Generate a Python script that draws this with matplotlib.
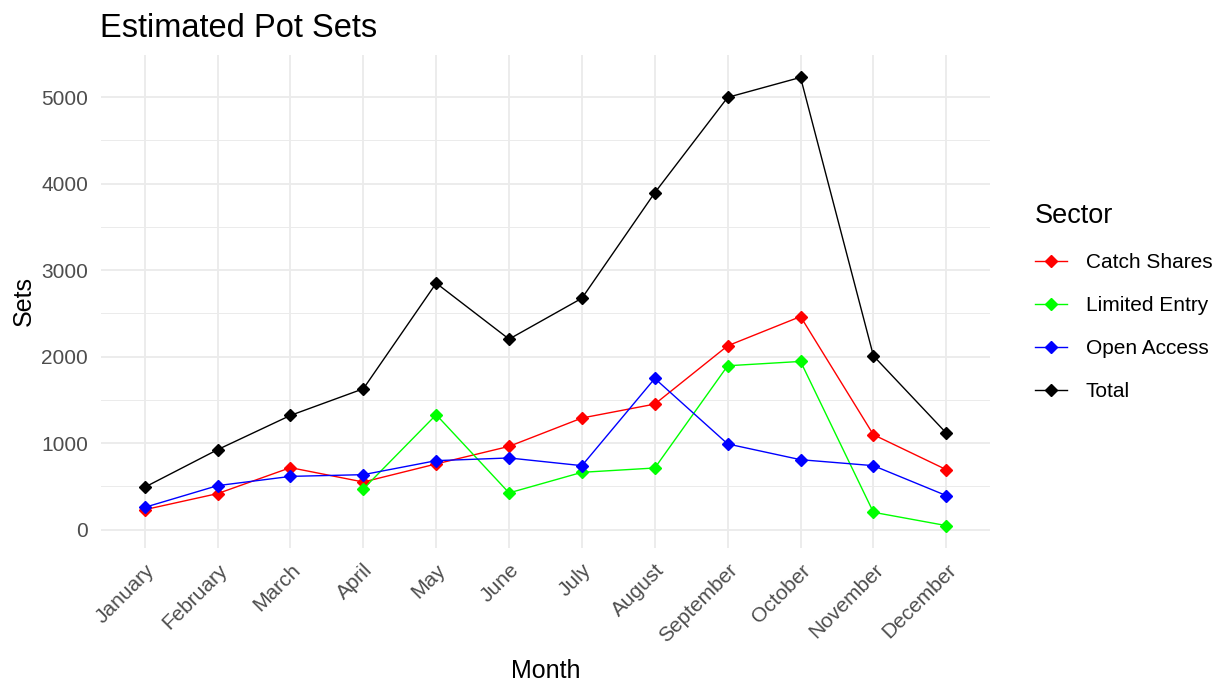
import numpy as np
import matplotlib.pyplot as plt
from matplotlib.ticker import MultipleLocator

plt.rcParams['font.family'] = ['Liberation Sans', 'DejaVu Sans']

# Datos
months = ['January', 'February', 'March', 'April', 'May', 'June', 'July',
          'August', 'September', 'October', 'November', 'December']
catch_shares = [230, 416, 716, 550, 759, 962, 1290, 1451, 2125, 2463, 1097, 693]
limited_entry = [np.nan, np.nan, np.nan, 470, 1328, 424, 662, 712, 1894, 1944, 200, 46]
open_access = [257, 508, 615, 635, 797, 828, 739, 1747, 990, 808, 739, 393]
total = [490, 924, 1320, 1628, 2849, 2202, 2675, 3895, 4997, 5228, 2009, 1116]

series = {
    'Catch Shares': (catch_shares, '#FF0000'),
    'Limited Entry': (limited_entry, '#00FF00'),
    'Open Access': (open_access, '#0000FF'),
    'Total': (total, '#000000'),
}

fig = plt.figure(figsize=(12.29, 6.86), dpi=100)
ax = fig.add_axes([101 / 1229, 1 - 548 / 686, (990 - 101) / 1229, (548 - 55) / 686])

x = np.arange(len(months))
for name, (vals, color) in series.items():
    ax.plot(x, vals, color=color, linewidth=1.0, marker='D', markersize=6.5,
            label=name)

# Estilo tipo theme_minimal
for s in ax.spines.values():
    s.set_visible(False)
ax.set_xlim(-0.6, len(months) - 1 + 0.6)
ax.set_ylim(-213, 5487)
ax.yaxis.set_major_locator(MultipleLocator(1000))
ax.yaxis.set_minor_locator(MultipleLocator(500))
ax.set_xticks(x)
ax.set_xticklabels(months, rotation=45, ha='right', rotation_mode='anchor')
ax.grid(True, which='major', color='#EBEBEB', linewidth=1.3)
ax.grid(True, which='minor', axis='y', color='#EBEBEB', linewidth=0.7)
ax.set_axisbelow(True)
ax.tick_params(axis='both', which='both', length=0, colors='#4D4D4D', labelsize=15)
ax.tick_params(axis='x', pad=9)
ax.tick_params(axis='y', pad=9.4)

ax.set_xlabel('Month', fontsize=18, labelpad=9)
ax.set_ylabel('Sets', fontsize=18, labelpad=4)
ax.set_title('Estimated Pot Sets', fontsize=23.5, loc='left', pad=13, x=-0.001)

leg = fig.legend(loc='upper left', bbox_to_anchor=(1016 / 1229, 1 - 184 / 686),
                 frameon=False, title='Sector', fontsize=15, title_fontsize=19.5,
                 labelspacing=1.16, handlelength=1.55, handletextpad=0.9)
leg._legend_box.align = 'left'

fig.savefig('out.png', dpi=100)
